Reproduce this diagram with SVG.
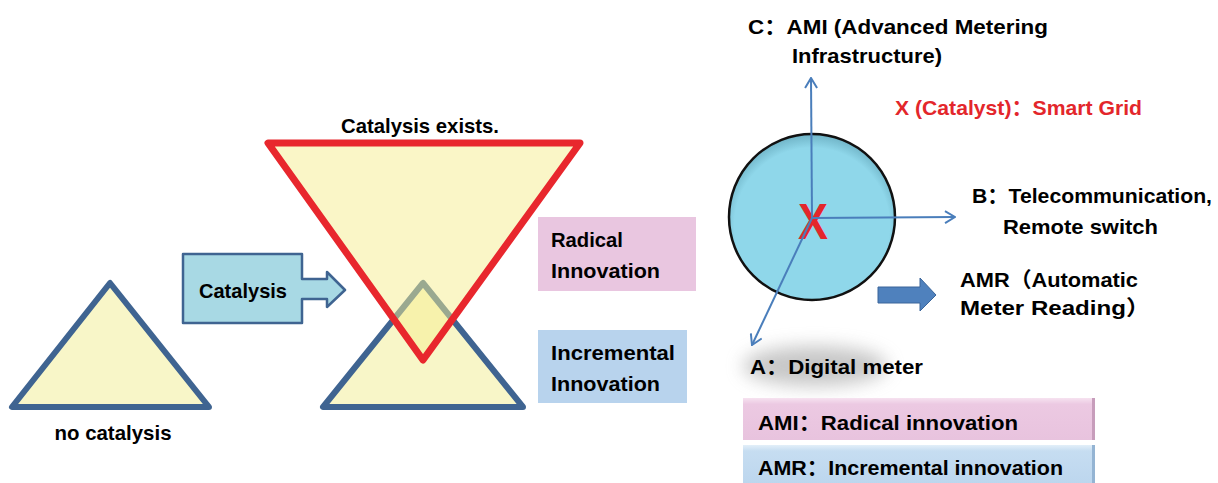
<svg xmlns="http://www.w3.org/2000/svg" width="1218" height="483" viewBox="0 0 1218 483">
<style>
.t{font-family:"Liberation Sans","Noto Sans CJK SC",Arial,sans-serif;font-weight:bold;font-size:21px;fill:#000}
.red{fill:#e3262b}
.tri{fill:#f8f6c8;stroke:#3f6491;stroke-width:6;stroke-linejoin:round}
.thin{fill:none;stroke:#4a7ebb;stroke-width:2}
</style>
<defs>
<marker id="open" viewBox="0 0 12 14" refX="11" refY="7" markerWidth="12" markerHeight="14" markerUnits="userSpaceOnUse" orient="auto">
<path d="M1,1 L11,7 L1,13" fill="none" stroke="#4a7ebb" stroke-width="2"/>
</marker>
<radialGradient id="ball" cx="0.5" cy="0.55" r="0.55">
<stop offset="0.85" stop-color="#8fd7ea"/>
<stop offset="1" stop-color="#6fb3c6"/>
</radialGradient>
<linearGradient id="pinkG" x1="0" y1="0" x2="0" y2="1">
<stop offset="0" stop-color="#f6e2f0"/>
<stop offset="0.15" stop-color="#ecc9e2"/>
<stop offset="1" stop-color="#e8c3de"/>
</linearGradient>
<linearGradient id="blueG" x1="0" y1="0" x2="0" y2="1">
<stop offset="0" stop-color="#e3eff9"/>
<stop offset="0.15" stop-color="#c6ddf1"/>
<stop offset="1" stop-color="#bcd6ee"/>
</linearGradient>
<filter id="blur" x="-50%" y="-50%" width="200%" height="200%"><feGaussianBlur stdDeviation="9"/></filter>
</defs>

<g id="no-catalysis">
<polygon class="tri" points="110,283 12,407 209,407"/>
<text class="t" x="113" y="440" text-anchor="middle" textLength="117" lengthAdjust="spacingAndGlyphs">no catalysis</text>
</g>

<g id="catalysis-arrow">
<path d="M183,254 H302 V279 H327 V272 L345,290 L327,307 V299 H302 V323 H183 Z" fill="#a8d9e4" stroke="#3f6491" stroke-width="2.5" stroke-linejoin="round"/>
<text class="t" x="243" y="298" text-anchor="middle" textLength="88" lengthAdjust="spacingAndGlyphs">Catalysis</text>
</g>

<g id="catalysis-exists">
<polygon class="tri" points="423,283 323,407 523,407"/>
<polygon points="268,143 580,143 423,360" fill="#f5ee90" fill-opacity="0.5" stroke="#e8272d" stroke-width="7" stroke-linejoin="round"/>
<text class="t" x="420" y="133" text-anchor="middle" textLength="158" lengthAdjust="spacingAndGlyphs">Catalysis exists.</text>
</g>

<g id="radical-innovation">
<rect x="538" y="217" width="158" height="74" fill="#e9c6e0"/>
<text class="t" x="551" y="247" textLength="72" lengthAdjust="spacingAndGlyphs">Radical</text>
<text class="t" x="551" y="278" textLength="109" lengthAdjust="spacingAndGlyphs">Innovation</text>
</g>

<g id="incremental-innovation">
<rect x="538" y="330" width="149" height="73" fill="#b8d3ed"/>
<text class="t" x="551" y="360" textLength="124" lengthAdjust="spacingAndGlyphs">Incremental</text>
<text class="t" x="551" y="391" textLength="109" lengthAdjust="spacingAndGlyphs">Innovation</text>
</g>

<g id="smart-grid">
<circle cx="812" cy="217" r="83" fill="url(#ball)" stroke="#111" stroke-width="2.5"/>
<text x="813" y="239" text-anchor="middle" font-family="Liberation Sans,Arial,sans-serif" font-weight="bold" font-size="50" fill="#e3262b" textLength="30" lengthAdjust="spacingAndGlyphs">X</text>
<text class="t red" x="895" y="115" textLength="247" lengthAdjust="spacingAndGlyphs">X (Catalyst)：Smart Grid</text>
</g>

<g id="label-c">
<text class="t" x="748" y="34" textLength="300" lengthAdjust="spacingAndGlyphs">C：AMI (Advanced Metering</text>
<text class="t" x="792" y="63" textLength="150" lengthAdjust="spacingAndGlyphs">Infrastructure)</text>
</g>

<g id="label-b">
<text class="t" x="972" y="203" textLength="240" lengthAdjust="spacingAndGlyphs">B：Telecommunication,</text>
<text class="t" x="1003" y="234" textLength="155" lengthAdjust="spacingAndGlyphs">Remote switch</text>
</g>

<g id="label-a">
<ellipse cx="815" cy="366" rx="72" ry="20" fill="#9a9a9a" opacity="0.55" filter="url(#blur)"/>
<text class="t" x="750" y="374" textLength="173" lengthAdjust="spacingAndGlyphs">A：Digital meter</text>
</g>

<g id="label-amr">
<text class="t" x="960" y="287" textLength="178" lengthAdjust="spacingAndGlyphs">AMR（Automatic</text>
<text class="t" x="960" y="315" textLength="190" lengthAdjust="spacingAndGlyphs">Meter Reading）</text>
</g>

<g id="ami-radical">
<rect x="743" y="398" width="352" height="42" fill="url(#pinkG)"/>
<rect x="1092" y="398" width="3" height="42" fill="#c79dbb"/>
<text class="t" x="758" y="430" textLength="260" lengthAdjust="spacingAndGlyphs">AMI：Radical  innovation</text>
</g>

<g id="amr-incremental">
<rect x="743" y="445" width="352" height="40" fill="url(#blueG)"/>
<rect x="1092" y="445" width="3" height="40" fill="#94b4d3"/>
<text class="t" x="758" y="475" textLength="305" lengthAdjust="spacingAndGlyphs">AMR：Incremental innovation</text>
</g>

<g id="connectors">
<line class="thin" x1="812" y1="218" x2="811" y2="78" marker-end="url(#open)"/>
<line class="thin" x1="812" y1="218" x2="955" y2="217" marker-end="url(#open)"/>
<line class="thin" x1="812" y1="218" x2="752" y2="345" marker-end="url(#open)"/>
<path d="M878,287 H920 V278 L936,295 L920,311 V303 H878 Z" fill="#4f81bd" stroke="#3a659a" stroke-width="1"/>
</g>
</svg>
